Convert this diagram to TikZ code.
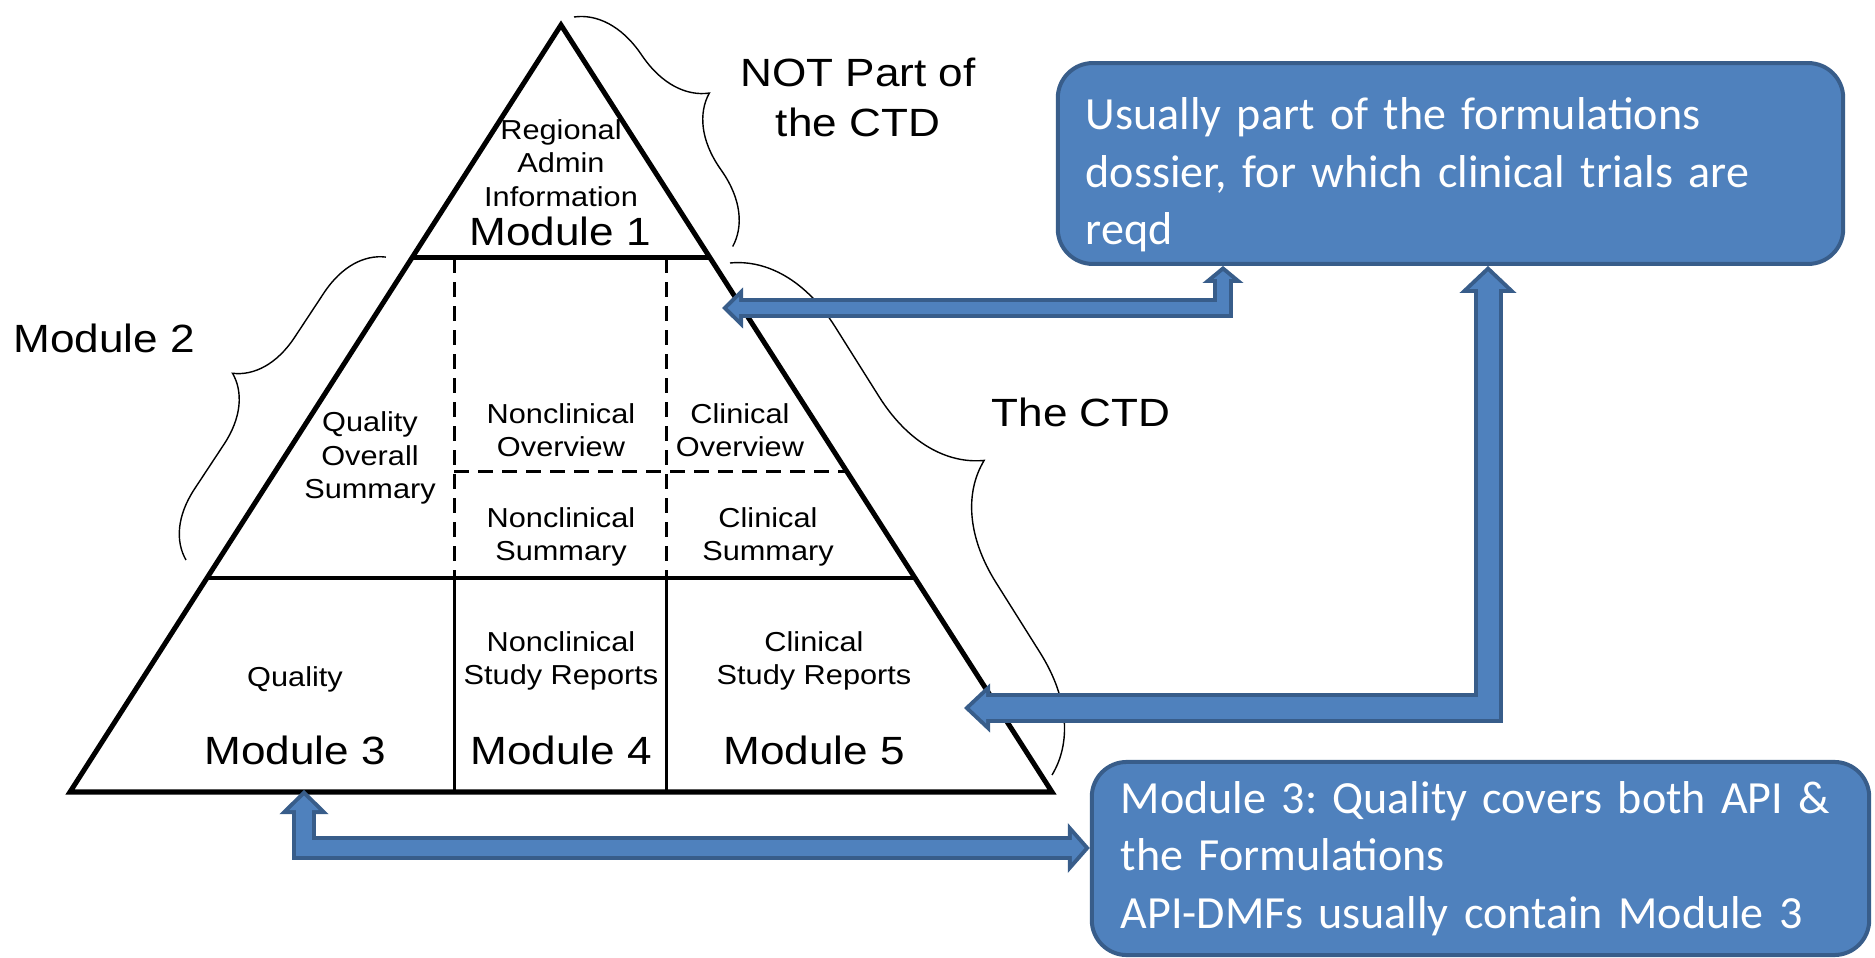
\documentclass[tikz,border=0pt]{standalone}
\usepackage{fontspec}
\setmainfont{Liberation Sans}
\newfontfamily\pyrfont[FakeStretch=1.12]{Liberation Sans}
\newfontfamily\notefont{Carlito}
\usepackage{tikz}
\usetikzlibrary{arrows.meta,decorations.pathreplacing}

\definecolor{noteblue}{HTML}{4F81BD}
\definecolor{noteedge}{HTML}{385D8A}
\frenchspacing

\begin{document}
\begin{tikzpicture}[
    x=0.01cm, y=-0.01cm,
    edge/.style={line width=0.05cm, line join=miter},
    wall/.style={line width=0.03cm},
    split/.style={line width=0.03cm, dash pattern=on 0.15cm off 0.09cm},
    cell/.style={font=\pyrfont\fontsize{7.8pt}{9.5pt}\selectfont, align=center, inner sep=0pt},
    modname/.style={font=\pyrfont\fontsize{11.2pt}{14.2pt}\selectfont, align=center, inner sep=0pt},
    brc/.style={line width=0.4pt, decorate, decoration={brace, amplitude=#1, aspect=0.5}},
    note/.style={draw=noteedge, fill=noteblue, line width=0.04cm, rounded corners=0.35cm,
                 minimum height=1.93cm, align=left, text=white,
                 font=\notefont\fontsize{13.1pt}{16.35pt}\selectfont},
    outline/.style={draw=noteedge, line join=miter},
    inline/.style={draw=noteblue, line join=miter}
  ]
  \useasboundingbox (0,0) rectangle (1875,958);

  % The pyramid
  \coordinate (apex) at (561,25);
  \coordinate (bl) at (70,792);
  \coordinate (br) at (1052,792);
  \draw[edge] (apex) -- (br) -- (bl) -- cycle;
  \draw[edge] (412,258) -- (710,258);
  \draw[line width=0.04cm] (207,578) -- (915,578);
  \draw[wall] (454,578) -- (454,792);
  \draw[wall] (666,578) -- (666,792);
  \draw[split] (454,258) -- (454,578);
  \draw[split] (666,258) -- (666,578);
  \draw[split] (454,472) -- (847,472);

  % Module 1
  \node[cell] (regional) at (561,163) {Regional\\Admin\\Information};
  \node[modname] (mod1) at (560,231) {Module 1};

  % Module 2
  \node[cell] (qos) at (370,458) {Quality\\Overall\\Summary};
  \node[cell] (ncov) at (561,430) {Nonclinical\\Overview};
  \node[cell] (clov) at (740,430) {Clinical\\Overview};
  \node[cell] (ncsum) at (561,537) {Nonclinical\\Summary};
  \node[cell] (clsum) at (768,537) {Clinical\\Summary};

  % Modules 3 to 5
  \node[cell] (qual) at (295,679) {Quality};
  \node[cell] (ncsr) at (561,661) {Nonclinical\\Study Reports};
  \node[cell] (clsr) at (814,661) {Clinical\\Study Reports};
  \node[modname] (mod3) at (295,750) {Module 3};
  \node[modname] (mod4) at (561,750) {Module 4};
  \node[modname] (mod5) at (814,750) {Module 5};

  % Braces and their labels
  \draw[brc=0.68cm] (574,17) -- (733,247);
  \draw[brc=0.64cm] (186,560) -- (386,257);
  \draw[brc=1.1cm] (730,263) -- (1052,775);
  \node[modname] (notpart) at (858,97) {NOT Part of\\the CTD};
  \node[modname] (mod2) at (104,338) {Module 2};
  \node[modname] (ctd) at (1081,412) {The CTD};

  % Notes
  \node[note, minimum width=7.85cm, text width=7.29cm] (formbox) at (1450.5,163.5)
    {\rule{0pt}{0.55cm}Usually part of the formulations\\dossier, for which clinical trials are\\reqd};
  \node[note, minimum width=7.77cm, text width=7.19cm] (dmfbox) at (1480.5,858.5)
    {Module 3: Quality covers both API \&\\the Formulations\\API-DMFs usually contain Module 3};

  % Block arrows: outline first, then fill
  \coordinate (tipA) at (722,308);
  \coordinate (bendA) at (1223,308);
  \coordinate (tipB) at (964,708);
  \coordinate (bendB) at (1488,708);
  \coordinate (tipC) at (304,790);
  \coordinate (bendC) at (304,848);

  \draw[outline, line width=0.2cm,
        {Triangle[length=0.17cm,width=0.41cm,line width=0pt]}-{Triangle[length=0.21cm,width=0.41cm,line width=0pt]}]
    (formbox.south -| bendA) -- (bendA) -- (tipA);
  \draw[inline, line width=0.12cm, shorten <=0.052cm, shorten >=0.057cm,
        {Triangle[length=0.078cm,width=0.188cm,line width=0pt]}-{Triangle[length=0.113cm,width=0.22cm,line width=0pt]}]
    (formbox.south -| bendA) -- (bendA) -- (tipA);

  \draw[outline, line width=0.29cm,
        {Triangle[length=0.27cm,width=0.57cm,line width=0pt]}-{Triangle[length=0.26cm,width=0.49cm,line width=0pt]}]
    (formbox.south -| bendB) -- (bendB) -- (tipB);
  \draw[inline, line width=0.21cm, shorten <=0.055cm, shorten >=0.058cm,
        {Triangle[length=0.175cm,width=0.37cm,line width=0pt]}-{Triangle[length=0.162cm,width=0.306cm,line width=0pt]}]
    (formbox.south -| bendB) -- (bendB) -- (tipB);

  \draw[outline, line width=0.24cm,
        {Triangle[length=0.24cm,width=0.49cm,line width=0pt]}-{Triangle[length=0.22cm,width=0.5cm,line width=0pt]}]
    (tipC) -- (bendC) -- (bendC -| dmfbox.west);
  \draw[inline, line width=0.16cm, shorten <=0.056cm, shorten >=0.053cm,
        {Triangle[length=0.144cm,width=0.294cm,line width=0pt]}-{Triangle[length=0.127cm,width=0.289cm,line width=0pt]}]
    (tipC) -- (bendC) -- (bendC -| dmfbox.west);
\end{tikzpicture}
\end{document}
